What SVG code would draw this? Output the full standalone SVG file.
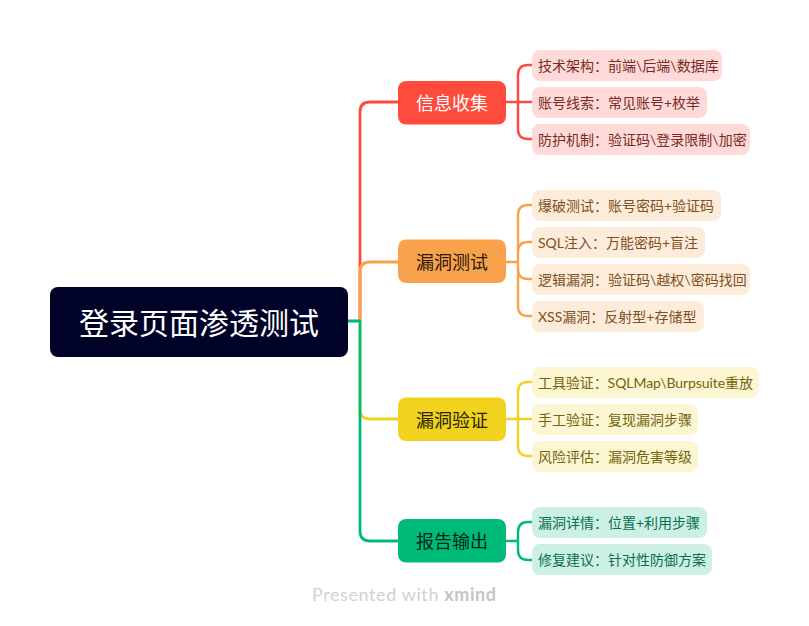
<svg xmlns="http://www.w3.org/2000/svg" width="809" height="626" viewBox="0 0 809 626">
<style>
text{font-family:Lato,"Noto Sans CJK SC","Noto Sans",sans-serif;dominant-baseline:central}
.c{fill:none;stroke-width:2.4;stroke-linecap:round;stroke-linejoin:round}
.t{stroke-width:2.8}
.s{font-size:14px}
.m{font-size:18px;text-anchor:middle}
.r{stroke:#ff4b3e}.o{stroke:#f9a24c}.y{stroke:#f1d31f}.g{stroke:#00bb78}
</style>
<rect width="809" height="626" fill="#fff"/>
<g id="connectors">
<path class="c t r" d="M360 321V112Q360 102 370 102H398"/>
<path class="c t o" d="M360 321V272Q360 262 370 262H398"/>
<path class="c t y" d="M360 321V410Q360 419 370 419H398"/>
<path class="c t g" d="M348 321H360V531Q360 541 370 541H398"/>
<path class="c r" d="M506 102H518M532 65H528Q518 65 518 75V129Q518 139 528 139H532M518 102H532"/>
<path class="c o" d="M506 262H518M532 205H528Q518 205 518 215V306Q518 316 528 316H532M532 242H528Q518 242 518 252V269Q518 279 528 279H532"/>
<path class="c y" d="M506 419H518M532 382H528Q518 382 518 392V446Q518 456 528 456H532M518 419H532"/>
<path class="c g" d="M506 541H518M532 522H528Q518 522 518 532V550Q518 560 528 560H532"/>
</g>
<g id="root"><rect x="50" y="287" width="298" height="70" rx="8" fill="#010228"/><text x="199" y="322" font-size="30" fill="#fff" text-anchor="middle">登录页面渗透测试</text></g>
<g id="n1"><rect x="398" y="81" width="108" height="43.500" rx="8" fill="#ff4b3e"/><text class="m" x="452" y="103" fill="#fff">信息收集</text></g>
<g id="n2"><rect x="398" y="239.500" width="108" height="43.500" rx="8" fill="#f9a24c"/><text class="m" x="452" y="261.500" fill="#2a1a08">漏洞测试</text></g>
<g id="n3"><rect x="398" y="397.500" width="108" height="43.500" rx="8" fill="#f1d31f"/><text class="m" x="452" y="419.500" fill="#2a2404">漏洞验证</text></g>
<g id="n4"><rect x="398" y="519" width="108" height="43.500" rx="8" fill="#00bb78"/><text class="m" x="452" y="541" fill="#01261a">报告输出</text></g>
<g id="s1" fill="#ffdad8"><rect x="532" y="50" width="190" height="31" rx="8"/><text class="s" x="538" y="65.500" fill="#7a2a26">技术架构：前端\后端\数据库</text></g>
<g id="s2" fill="#ffdad8"><rect x="532" y="87" width="175" height="31" rx="8"/><text class="s" x="538" y="102.500" fill="#7a2a26">账号线索：常见账号+枚举</text></g>
<g id="s3" fill="#ffdad8"><rect x="532" y="124" width="218" height="31" rx="8"/><text class="s" x="538" y="139.500" fill="#7a2a26">防护机制：验证码\登录限制\加密</text></g>
<g id="s4" fill="#feecdb"><rect x="532" y="190" width="189" height="31" rx="8"/><text class="s" x="538" y="205.500" fill="#7d4f22">爆破测试：账号密码+验证码</text></g>
<g id="s5" fill="#feecdb"><rect x="532" y="227" width="173" height="31" rx="8"/><text class="s" x="538" y="242.500" fill="#7d4f22">SQL注入：万能密码+盲注</text></g>
<g id="s6" fill="#feecdb"><rect x="532" y="264" width="218" height="31" rx="8"/><text class="s" x="538" y="279.500" fill="#7d4f22">逻辑漏洞：验证码\越权\密码找回</text></g>
<g id="s7" fill="#feecdb"><rect x="532" y="301" width="172" height="31" rx="8"/><text class="s" x="538" y="316.500" fill="#7d4f22">XSS漏洞：反射型+存储型</text></g>
<g id="s8" fill="#fcf6d2"><rect x="532" y="367" width="227" height="31" rx="8"/><text class="s" x="538" y="382.500" fill="#74640c" textLength="215">工具验证：SQLMap\Burpsuite重放</text></g>
<g id="s9" fill="#fcf6d2"><rect x="532" y="404" width="166" height="31" rx="8"/><text class="s" x="538" y="419.500" fill="#74640c">手工验证：复现漏洞步骤</text></g>
<g id="s10" fill="#fcf6d2"><rect x="532" y="441" width="166" height="31" rx="8"/><text class="s" x="538" y="456.500" fill="#74640c">风险评估：漏洞危害等级</text></g>
<g id="s11" fill="#ccf1e4"><rect x="532" y="507" width="175" height="31" rx="8"/><text class="s" x="538" y="522.500" fill="#0a6e4c">漏洞详情：位置+利用步骤</text></g>
<g id="s12" fill="#ccf1e4"><rect x="532" y="544" width="180" height="31" rx="8"/><text class="s" x="538" y="559.500" fill="#0a6e4c">修复建议：针对性防御方案</text></g>
<text x="312" y="594" font-size="18" fill="#d2d2d2" textLength="184" lengthAdjust="spacing">Presented with <tspan font-weight="700" fill="#c4c4c4">xmind</tspan></text>
</svg>
